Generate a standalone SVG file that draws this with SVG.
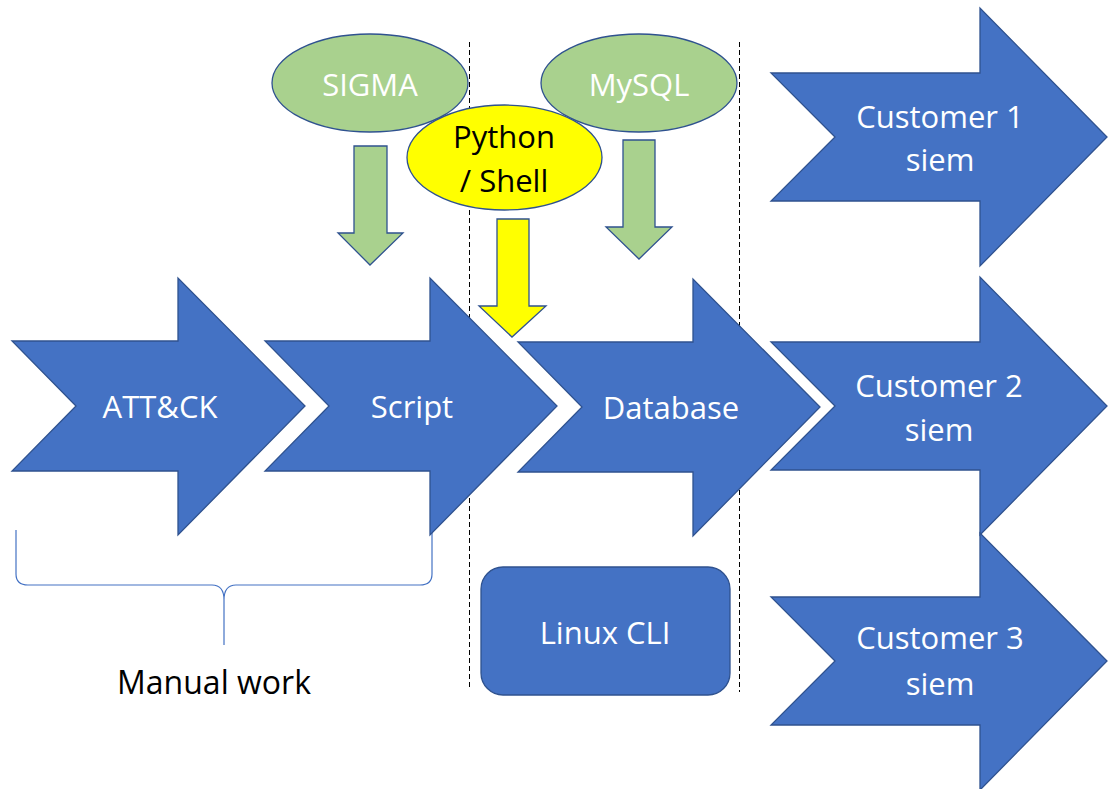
<svg xmlns="http://www.w3.org/2000/svg" width="1108" height="789" viewBox="0 0 1108 789">
<style>
.blue{fill:#4472C4;stroke:#2F528F;stroke-width:1.3}
.green{fill:#A9D18E;stroke:#2F528F;stroke-width:1.3}
.yellow{fill:#FFFF00;stroke:#2F528F;stroke-width:1.3}
.dash{stroke:#000;stroke-width:1;stroke-dasharray:5 3;fill:none}
.lbl{font-family:"Open Sans","Liberation Sans",sans-serif;font-size:31px;text-anchor:middle}
.w{fill:#FFFFFF}
.k{fill:#000000}
</style>
<rect width="1108" height="789" fill="#FFFFFF"/>
<g id="separators">
<line class="dash" x1="469.5" y1="42" x2="469.5" y2="690"/>
<line class="dash" x1="739.5" y1="42" x2="739.5" y2="692"/>
</g>
<g id="connectors">
<path id="sigma-arrow" class="green" d="M354,146 L387,146 L387,233 L403,233 L370,265 L338,233 L354,233 Z"/>
<path id="mysql-arrow" class="green" d="M623,140 L655,140 L655,227 L672,227 L639,259 L606,227 L623,227 Z"/>
<path id="python-arrow" class="yellow" d="M497,219 L529,219 L529,306 L546,306 L512,337 L479,306 L497,306 Z"/>
<path id="manual-brace" d="M16,530 L16,574 Q16,585 28,585 L212,585 Q224,585 224,600 L224,645 M224,600 Q224,585 236,585 L420,585 Q432,585 432,574 L432,530" fill="none" stroke="#4472C4" stroke-width="1.2"/>
</g>
<g id="sigma">
<ellipse class="green" cx="370" cy="83" rx="98" ry="49"/>
<text class="lbl w" x="370" y="96">SIGMA</text>
</g>
<g id="mysql">
<ellipse class="green" cx="639" cy="83" rx="98" ry="49"/>
<text class="lbl w" x="639" y="96">MySQL</text>
</g>
<g id="python">
<ellipse class="yellow" cx="504.5" cy="157.5" rx="97.5" ry="52.5"/>
<text class="lbl k" x="504" y="148">Python</text>
<text class="lbl k" x="504" y="192">/ Shell</text>
</g>
<g id="attck">
<path class="blue" d="M12,341 L178,341 L178,278 L305,406 L178,535 L178,471 L12,471 L76,406 Z"/>
<text class="lbl w" x="160" y="418">ATT&amp;CK</text>
</g>
<g id="script">
<path class="blue" d="M265,341 L430,341 L430,278 L557,406 L430,535 L430,471 L265,471 L329,406 Z"/>
<text class="lbl w" x="412" y="418">Script</text>
</g>
<g id="database">
<path class="blue" d="M518,342 L693,342 L693,279 L820,407 L693,536 L693,472 L518,472 L582,407 Z"/>
<text class="lbl w" x="671" y="419">Database</text>
</g>
<g id="customer1">
<path class="blue" d="M771,73 L980,73 L980,8 L1107,137 L980,266 L980,201 L771,201 L835,137 Z"/>
<text class="lbl w" x="940" y="128">Customer 1</text>
<text class="lbl w" x="940" y="171">siem</text>
</g>
<g id="customer2">
<path class="blue" d="M771,342 L980,342 L980,277 L1107,406 L980,535 L980,470 L771,470 L835,406 Z"/>
<text class="lbl w" x="939" y="397">Customer 2</text>
<text class="lbl w" x="939" y="441">siem</text>
</g>
<g id="customer3">
<path class="blue" d="M771,597 L980,597 L980,533 L1107,661 L980,790 L980,725 L771,725 L835,661 Z"/>
<text class="lbl w" x="940" y="649">Customer 3</text>
<text class="lbl w" x="940" y="695">siem</text>
</g>
<g id="linux-cli">
<rect class="blue" x="481" y="567" width="249" height="128" rx="22"/>
<text class="lbl w" x="605" y="644">Linux CLI</text>
</g>
<g id="manual-work">
<text class="lbl k" x="214" y="694" style="font-size:32px">Manual work</text>
</g>
</svg>
